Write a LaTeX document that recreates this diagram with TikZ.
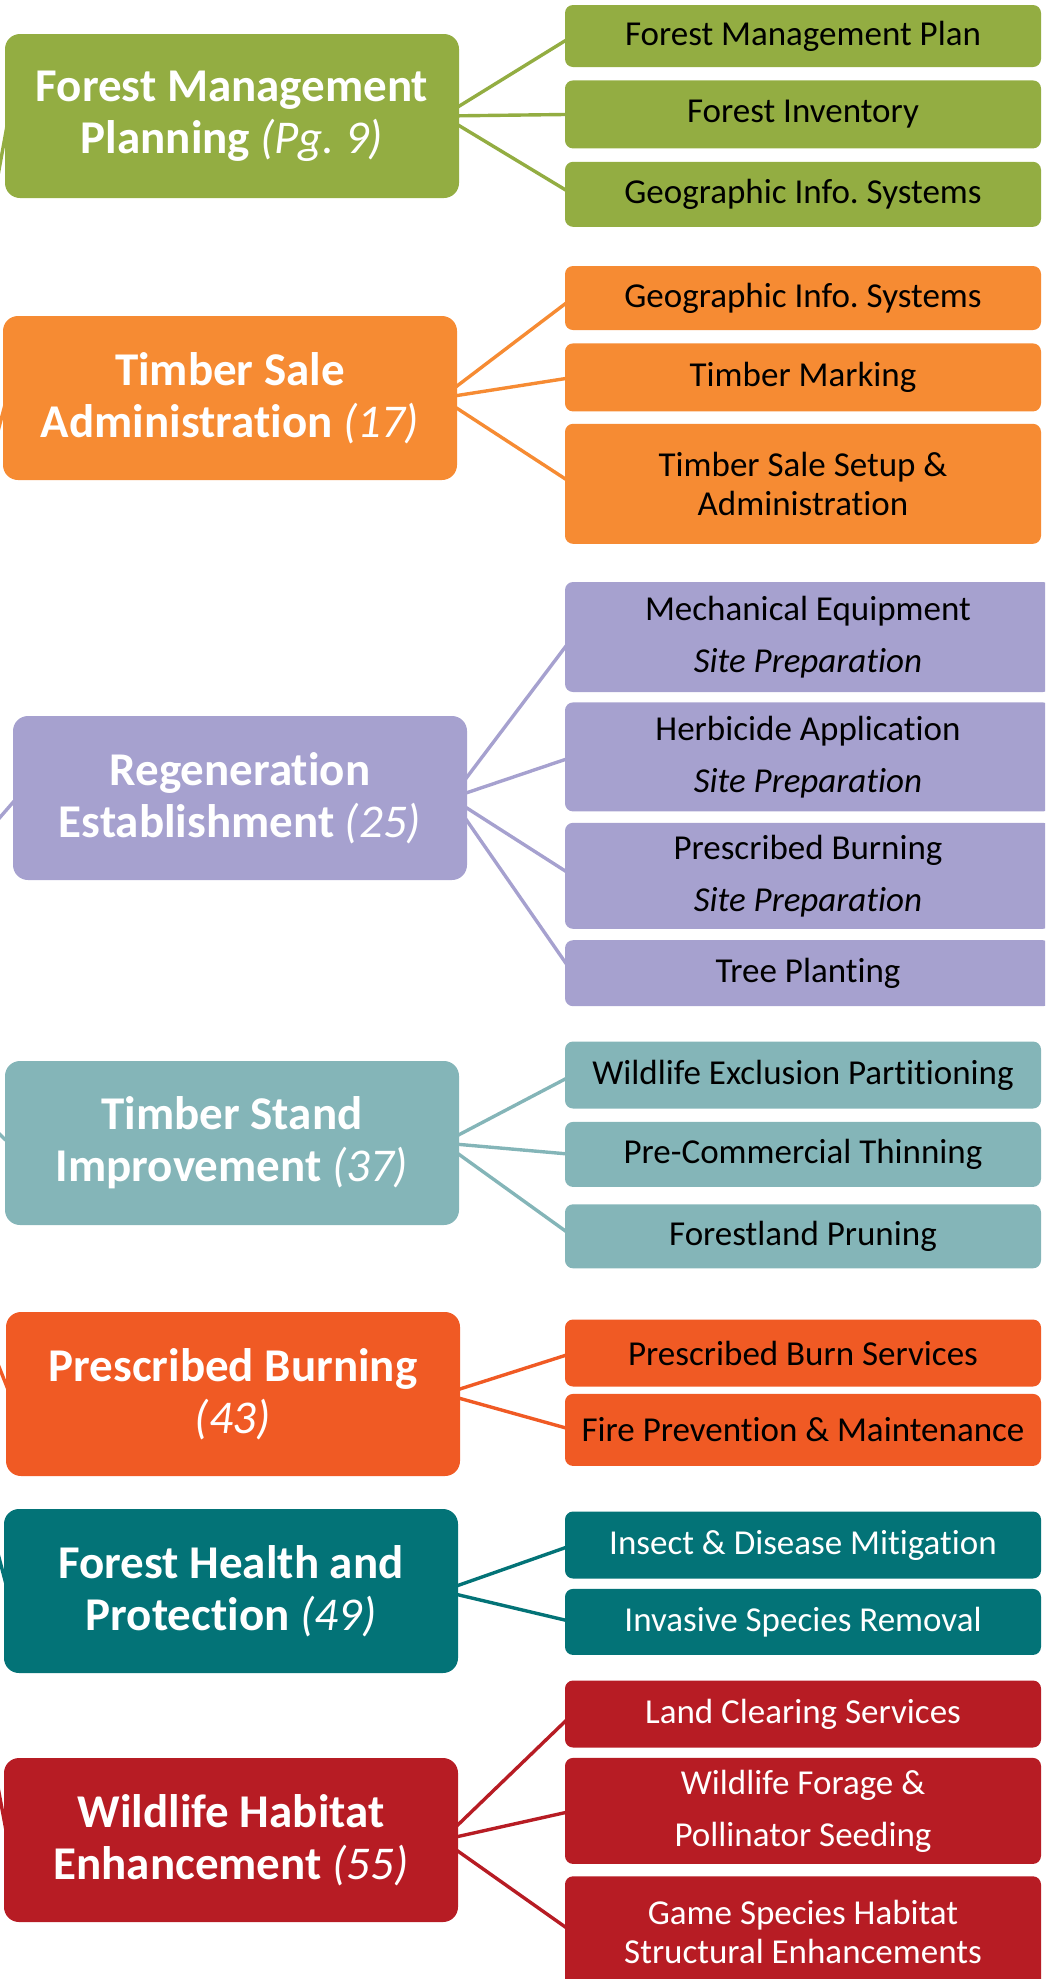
\documentclass[tikz,border=0pt]{standalone}
\usepackage{fontspec}
\setmainfont{Carlito}[Ligatures={NoCommon,NoContextual}, Contextuals=NoAlternate]
\frenchspacing
\usetikzlibrary{positioning}
\definecolor{fmpgreen}{HTML}{93AD42}
\definecolor{tsaorange}{HTML}{F68B33}
\definecolor{repurple}{HTML}{A6A1CF}
\definecolor{tsiteal}{HTML}{84B5B8}
\definecolor{pbred}{HTML}{F05A24}
\definecolor{fhpteal}{HTML}{037377}
\definecolor{whered}{HTML}{B71C24}
\newcommand{\pgno}[1]{{\mdseries\itshape (#1)}}
\pgfdeclarelayer{background}
\pgfsetlayers{background,main}
\tikzset{x=1pt,y=-1pt,
  hub/.style={rectangle, rounded corners=15pt, minimum width=454pt, minimum height=164pt,
    inner sep=0pt, align=center, text=white, font=\fontsize{47}{52}\selectfont\bfseries},
  leaf/.style={rectangle, rounded corners=8pt, minimum width=476pt, minimum height=66pt,
    inner sep=0pt, align=center, font=\fontsize{35}{39}\selectfont},
  spaced/.style={font=\fontsize{35}{52}\selectfont},
  link/.style={line width=3.4pt}}

\begin{document}
\begin{tikzpicture}
\useasboundingbox (0,0) rectangle (1045,1979);
\clip (0,0) rectangle (1045,1979);
\coordinate (root) at (-150,990);

% main topics
\node[hub, fill=fmpgreen] (fmp) at (232,116) {Forest Management\\Planning \pgno{Pg. 9}};
\node[hub, fill=tsaorange] (tsa) at (230,398) {Timber Sale\\Administration \pgno{17}};
\node[hub, fill=repurple] (re) at (240,798) {Regeneration\\Establishment \pgno{25}};
\node[hub, fill=tsiteal] (tsi) at (232,1143) {Timber Stand\\Improvement \pgno{37}};
\node[hub, fill=pbred] (pb) at (233,1394) {Prescribed Burning\\\pgno{43}};
\node[hub, fill=fhpteal] (fhp) at (231,1591) {Forest Health and\\Protection \pgno{49}};
\node[hub, fill=whered] (whe) at (231,1840) {Wildlife Habitat\\Enhancement \pgno{55}};

% services
\node[leaf, fill=fmpgreen, minimum height=62pt] (fmp1) at (803,36) {Forest Management Plan};
\node[leaf, fill=fmpgreen, minimum height=68pt, below=13pt of fmp1] (fmp2) {Forest Inventory};
\node[leaf, fill=fmpgreen, minimum height=65pt, below=13pt of fmp2] (fmp3) {Geographic Info. Systems};

\node[leaf, fill=tsaorange, minimum height=64pt] (tsa1) at (803,298) {Geographic Info. Systems};
\node[leaf, fill=tsaorange, minimum height=68pt, below=13pt of tsa1] (tsa2) {Timber Marking};
\node[leaf, fill=tsaorange, minimum height=120pt, below=12pt of tsa2] (tsa3) {Timber Sale Setup \&\\Administration};

\node[leaf, spaced, fill=repurple, minimum width=486pt, minimum height=110pt] (re1) at (808,637) {Mechanical Equipment\\\textit{Site Preparation}};
\node[leaf, spaced, fill=repurple, minimum width=486pt, minimum height=109pt, below=10pt of re1] (re2) {Herbicide Application\\\textit{Site Preparation}};
\node[leaf, spaced, fill=repurple, minimum width=486pt, minimum height=106pt, below=11pt of re2] (re3) {Prescribed Burning\\\textit{Site Preparation}};
\node[leaf, fill=repurple, minimum width=486pt, minimum height=66pt, below=11pt of re3] (re4) {Tree Planting};

\node[leaf, fill=tsiteal, minimum height=67pt] (tsi1) at (803,1075) {Wildlife Exclusion Partitioning};
\node[leaf, fill=tsiteal, minimum height=65pt, below=13pt of tsi1] (tsi2) {Pre-Commercial Thinning};
\node[leaf, fill=tsiteal, minimum height=64pt, below=17pt of tsi2] (tsi3) {Forestland Pruning};

\node[leaf, fill=pbred, minimum height=67pt] (pb1) at (803,1353) {Prescribed Burn Services};
\node[leaf, fill=pbred, minimum height=72pt, below=7pt of pb1] (pb2) {Fire Prevention \& Maintenance};

\node[leaf, fill=fhpteal, text=white, minimum height=67pt] (fhp1) at (803,1545) {Insect \& Disease Mitigation};
\node[leaf, fill=fhpteal, text=white, minimum height=66pt, below=10pt of fhp1] (fhp2) {Invasive Species Removal};

\node[leaf, fill=whered, text=white, minimum height=67pt] (whe1) at (803,1714) {Land Clearing Services};
\node[leaf, spaced, fill=whered, text=white, minimum height=106pt, below=10pt of whe1] (whe2) {Wildlife Forage \&\\Pollinator Seeding};
\node[leaf, fill=whered, text=white, minimum height=112pt, below=12pt of whe2] (whe3) {Game Species Habitat\\Structural Enhancements};

% connectors behind the boxes
\begin{pgfonlayer}{background}
\clip (0,0) rectangle (1045,1979);
\draw[link, fmpgreen] (root) -- ([xshift=4pt]fmp.west)
  ([xshift=-16pt]fmp.east) edge ([xshift=8pt]fmp1.west)
  ([xshift=-16pt]fmp.east) edge ([xshift=8pt]fmp2.west)
  ([xshift=-16pt]fmp.east) edge ([xshift=8pt]fmp3.west);
\draw[link, tsaorange] (root) -- ([xshift=4pt]tsa.west)
  ([xshift=-16pt]tsa.east) edge ([xshift=8pt]tsa1.west)
  ([xshift=-16pt]tsa.east) edge ([xshift=8pt]tsa2.west)
  ([xshift=-16pt]tsa.east) edge ([xshift=8pt]tsa3.west);
\draw[link, repurple] (root) -- ([xshift=4pt]re.west)
  ([xshift=-16pt]re.east) edge ([xshift=8pt]re1.west)
  ([xshift=-16pt]re.east) edge ([xshift=8pt]re2.west)
  ([xshift=-16pt]re.east) edge ([xshift=8pt]re3.west)
  ([xshift=-16pt]re.east) edge ([xshift=8pt]re4.west);
\draw[link, tsiteal] (root) -- ([xshift=4pt]tsi.west)
  ([xshift=-16pt]tsi.east) edge ([xshift=8pt]tsi1.west)
  ([xshift=-16pt]tsi.east) edge ([xshift=8pt]tsi2.west)
  ([xshift=-16pt]tsi.east) edge ([xshift=8pt]tsi3.west);
\draw[link, pbred] (root) -- ([xshift=4pt]pb.west)
  ([xshift=-16pt]pb.east) edge ([xshift=8pt]pb1.west)
  ([xshift=-16pt]pb.east) edge ([xshift=8pt]pb2.west);
\draw[link, fhpteal] (root) -- ([xshift=4pt]fhp.west)
  ([xshift=-16pt]fhp.east) edge ([xshift=8pt]fhp1.west)
  ([xshift=-16pt]fhp.east) edge ([xshift=8pt]fhp2.west);
\draw[link, whered] (root) -- ([xshift=4pt]whe.west)
  ([xshift=-16pt]whe.east) edge ([xshift=8pt]whe1.west)
  ([xshift=-16pt]whe.east) edge ([xshift=8pt]whe2.west)
  ([xshift=-16pt]whe.east) edge ([xshift=8pt]whe3.west);
\end{pgfonlayer}
\end{tikzpicture}
\end{document}
